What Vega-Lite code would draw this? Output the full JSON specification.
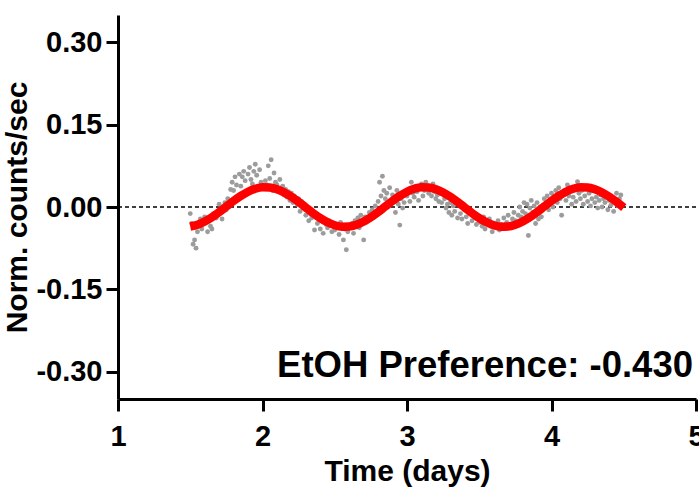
{
"$schema": "https://vega.github.io/schema/vega-lite/v6.json",
"width": 578, "height": 384,
"autosize": {"type": "none"},
"padding": {"left": 118, "top": 15, "right": 3, "bottom": 95},
"background": "white",
"config": {"view": {"stroke": null}, "font": "Liberation Sans"},
"datasets": {
"pts": [
{"t":1.50,"v":-0.012},{"t":1.51,"v":-0.030},{"t":1.52,"v":-0.068},{"t":1.53,"v":-0.060},{"t":1.54,"v":-0.075},{"t":1.55,"v":-0.045},{"t":1.56,"v":-0.028},{"t":1.57,"v":-0.022},{"t":1.58,"v":-0.040},{"t":1.60,"v":-0.018},{"t":1.61,"v":-0.025},{"t":1.62,"v":-0.045},{"t":1.64,"v":-0.035},{"t":1.65,"v":-0.040},{"t":1.66,"v":-0.012},{"t":1.68,"v":-0.020},{"t":1.70,"v":0.005},{"t":1.71,"v":-0.010},{"t":1.72,"v":-0.022},{"t":1.74,"v":0.008},{"t":1.75,"v":-0.005},{"t":1.76,"v":0.015},{"t":1.78,"v":0.032},{"t":1.79,"v":0.045},{"t":1.80,"v":0.030},{"t":1.81,"v":0.055},{"t":1.82,"v":0.040},{"t":1.84,"v":0.060},{"t":1.85,"v":0.038},{"t":1.86,"v":0.055},{"t":1.87,"v":0.065},{"t":1.88,"v":0.048},{"t":1.90,"v":0.060},{"t":1.91,"v":0.072},{"t":1.92,"v":0.050},{"t":1.93,"v":0.042},{"t":1.94,"v":0.065},{"t":1.95,"v":0.078},{"t":1.96,"v":0.058},{"t":1.98,"v":0.068},{"t":1.99,"v":0.045},{"t":2.00,"v":0.035},{"t":2.02,"v":0.048},{"t":2.03,"v":0.040},{"t":2.04,"v":0.075},{"t":2.05,"v":0.052},{"t":2.06,"v":0.086},{"t":2.07,"v":0.030},{"t":2.08,"v":0.062},{"t":2.09,"v":0.045},{"t":2.10,"v":0.040},{"t":2.11,"v":0.028},{"t":2.12,"v":0.050},{"t":2.13,"v":0.035},{"t":2.14,"v":0.038},{"t":2.15,"v":0.022},{"t":2.16,"v":0.032},{"t":2.17,"v":0.018},{"t":2.18,"v":0.028},{"t":2.19,"v":0.012},{"t":2.20,"v":0.025},{"t":2.21,"v":0.008},{"t":2.22,"v":0.020},{"t":2.24,"v":0.005},{"t":2.25,"v":0.015},{"t":2.26,"v":-0.008},{"t":2.27,"v":0.010},{"t":2.28,"v":-0.002},{"t":2.30,"v":-0.015},{"t":2.31,"v":-0.005},{"t":2.32,"v":-0.025},{"t":2.33,"v":-0.012},{"t":2.34,"v":-0.020},{"t":2.36,"v":-0.042},{"t":2.37,"v":-0.018},{"t":2.38,"v":-0.030},{"t":2.40,"v":-0.040},{"t":2.41,"v":-0.022},{"t":2.42,"v":-0.048},{"t":2.44,"v":-0.032},{"t":2.45,"v":-0.038},{"t":2.46,"v":-0.025},{"t":2.48,"v":-0.045},{"t":2.49,"v":-0.030},{"t":2.50,"v":-0.042},{"t":2.52,"v":-0.035},{"t":2.53,"v":-0.050},{"t":2.54,"v":-0.028},{"t":2.56,"v":-0.060},{"t":2.57,"v":-0.040},{"t":2.58,"v":-0.078},{"t":2.59,"v":-0.045},{"t":2.60,"v":-0.035},{"t":2.62,"v":-0.030},{"t":2.63,"v":-0.048},{"t":2.64,"v":-0.025},{"t":2.66,"v":-0.020},{"t":2.67,"v":-0.038},{"t":2.68,"v":-0.015},{"t":2.70,"v":-0.060},{"t":2.71,"v":-0.018},{"t":2.72,"v":-0.028},{"t":2.74,"v":-0.010},{"t":2.75,"v":-0.022},{"t":2.76,"v":-0.005},{"t":2.78,"v":0.002},{"t":2.79,"v":-0.012},{"t":2.80,"v":0.010},{"t":2.81,"v":0.045},{"t":2.82,"v":0.020},{"t":2.83,"v":0.056},{"t":2.84,"v":0.030},{"t":2.85,"v":0.015},{"t":2.86,"v":0.025},{"t":2.87,"v":0.005},{"t":2.88,"v":0.035},{"t":2.90,"v":0.022},{"t":2.91,"v":0.010},{"t":2.92,"v":-0.010},{"t":2.93,"v":0.030},{"t":2.94,"v":0.005},{"t":2.95,"v":-0.033},{"t":2.96,"v":0.015},{"t":2.97,"v":-0.002},{"t":2.98,"v":0.008},{"t":3.00,"v":0.020},{"t":3.01,"v":0.032},{"t":3.02,"v":0.010},{"t":3.03,"v":0.045},{"t":3.04,"v":0.025},{"t":3.05,"v":0.018},{"t":3.06,"v":0.038},{"t":3.07,"v":0.028},{"t":3.08,"v":0.012},{"t":3.09,"v":0.035},{"t":3.10,"v":0.042},{"t":3.11,"v":0.020},{"t":3.12,"v":0.030},{"t":3.13,"v":0.045},{"t":3.14,"v":0.038},{"t":3.15,"v":0.025},{"t":3.16,"v":0.032},{"t":3.17,"v":0.020},{"t":3.18,"v":0.042},{"t":3.19,"v":0.028},{"t":3.20,"v":0.015},{"t":3.21,"v":0.022},{"t":3.22,"v":0.010},{"t":3.23,"v":0.025},{"t":3.24,"v":0.008},{"t":3.26,"v":0.015},{"t":3.27,"v":-0.002},{"t":3.28,"v":0.005},{"t":3.29,"v":-0.010},{"t":3.30,"v":0.008},{"t":3.31,"v":-0.015},{"t":3.32,"v":0.002},{"t":3.33,"v":-0.008},{"t":3.35,"v":-0.020},{"t":3.36,"v":0.005},{"t":3.37,"v":-0.012},{"t":3.38,"v":-0.022},{"t":3.39,"v":0.002},{"t":3.40,"v":-0.005},{"t":3.41,"v":-0.018},{"t":3.42,"v":-0.030},{"t":3.43,"v":-0.008},{"t":3.44,"v":-0.012},{"t":3.45,"v":-0.025},{"t":3.47,"v":-0.015},{"t":3.48,"v":-0.032},{"t":3.49,"v":-0.020},{"t":3.50,"v":-0.028},{"t":3.52,"v":-0.035},{"t":3.53,"v":-0.018},{"t":3.54,"v":-0.040},{"t":3.55,"v":-0.028},{"t":3.57,"v":-0.022},{"t":3.58,"v":-0.035},{"t":3.59,"v":-0.045},{"t":3.60,"v":-0.030},{"t":3.62,"v":-0.038},{"t":3.63,"v":-0.025},{"t":3.64,"v":-0.042},{"t":3.65,"v":-0.032},{"t":3.67,"v":-0.020},{"t":3.68,"v":-0.038},{"t":3.69,"v":-0.028},{"t":3.70,"v":-0.015},{"t":3.72,"v":-0.032},{"t":3.73,"v":-0.022},{"t":3.74,"v":-0.010},{"t":3.75,"v":-0.025},{"t":3.77,"v":-0.015},{"t":3.78,"v":0.000},{"t":3.79,"v":-0.018},{"t":3.80,"v":-0.008},{"t":3.81,"v":0.008},{"t":3.82,"v":-0.012},{"t":3.83,"v":0.005},{"t":3.84,"v":-0.052},{"t":3.85,"v":-0.002},{"t":3.86,"v":0.012},{"t":3.87,"v":-0.010},{"t":3.88,"v":0.002},{"t":3.89,"v":-0.030},{"t":3.90,"v":0.008},{"t":3.91,"v":-0.022},{"t":3.92,"v":0.000},{"t":3.93,"v":-0.018},{"t":3.95,"v":0.015},{"t":3.96,"v":0.005},{"t":3.97,"v":0.020},{"t":3.98,"v":-0.005},{"t":3.99,"v":0.010},{"t":4.00,"v":0.025},{"t":4.01,"v":0.000},{"t":4.02,"v":0.018},{"t":4.03,"v":0.030},{"t":4.04,"v":0.008},{"t":4.05,"v":0.035},{"t":4.06,"v":0.015},{"t":4.07,"v":-0.015},{"t":4.08,"v":0.022},{"t":4.09,"v":0.030},{"t":4.10,"v":0.012},{"t":4.11,"v":0.040},{"t":4.12,"v":0.020},{"t":4.13,"v":0.028},{"t":4.14,"v":0.005},{"t":4.15,"v":0.018},{"t":4.16,"v":0.035},{"t":4.17,"v":0.010},{"t":4.18,"v":0.046},{"t":4.19,"v":0.025},{"t":4.20,"v":0.015},{"t":4.21,"v":0.030},{"t":4.22,"v":0.005},{"t":4.23,"v":0.020},{"t":4.24,"v":0.038},{"t":4.25,"v":0.010},{"t":4.26,"v":0.025},{"t":4.27,"v":0.002},{"t":4.28,"v":0.015},{"t":4.29,"v":0.030},{"t":4.30,"v":0.008},{"t":4.31,"v":0.018},{"t":4.32,"v":-0.002},{"t":4.33,"v":0.012},{"t":4.34,"v":0.022},{"t":4.35,"v":0.000},{"t":4.36,"v":0.015},{"t":4.37,"v":0.008},{"t":4.38,"v":0.020},{"t":4.39,"v":-0.005},{"t":4.40,"v":0.012},{"t":4.41,"v":0.003},{"t":4.42,"v":0.018},{"t":4.43,"v":-0.008},{"t":4.44,"v":0.010},{"t":4.45,"v":0.025},{"t":4.46,"v":0.002},{"t":4.47,"v":0.015},{"t":4.48,"v":0.022}
],
"fit": [
{"t":1.50,"v":-0.0355},{"t":1.55,"v":-0.0323},{"t":1.60,"v":-0.0265},{"t":1.65,"v":-0.0186},{"t":1.70,"v":-0.0092},{"t":1.75,"v":0.0010},{"t":1.80,"v":0.0111},{"t":1.85,"v":0.0203},{"t":1.90,"v":0.0279},{"t":1.95,"v":0.0332},{"t":2.00,"v":0.0358},{"t":2.05,"v":0.0355},{"t":2.10,"v":0.0323},{"t":2.15,"v":0.0265},{"t":2.20,"v":0.0186},{"t":2.25,"v":0.0092},{"t":2.30,"v":-0.0010},{"t":2.35,"v":-0.0111},{"t":2.40,"v":-0.0203},{"t":2.45,"v":-0.0279},{"t":2.50,"v":-0.0332},{"t":2.55,"v":-0.0358},
{"t":2.60,"v":-0.0355},{"t":2.65,"v":-0.0323},{"t":2.70,"v":-0.0265},{"t":2.75,"v":-0.0186},{"t":2.80,"v":-0.0092},{"t":2.85,"v":0.0010},{"t":2.90,"v":0.0111},{"t":2.95,"v":0.0203},{"t":3.00,"v":0.0279},{"t":3.05,"v":0.0332},{"t":3.10,"v":0.0358},{"t":3.15,"v":0.0355},{"t":3.20,"v":0.0323},{"t":3.25,"v":0.0265},{"t":3.30,"v":0.0186},{"t":3.35,"v":0.0092},{"t":3.40,"v":-0.0010},{"t":3.45,"v":-0.0111},{"t":3.50,"v":-0.0203},{"t":3.55,"v":-0.0279},{"t":3.60,"v":-0.0332},{"t":3.65,"v":-0.0358},
{"t":3.70,"v":-0.0355},{"t":3.75,"v":-0.0323},{"t":3.80,"v":-0.0265},{"t":3.85,"v":-0.0186},{"t":3.90,"v":-0.0092},{"t":3.95,"v":0.0010},{"t":4.00,"v":0.0111},{"t":4.05,"v":0.0203},{"t":4.10,"v":0.0279},{"t":4.15,"v":0.0332},{"t":4.20,"v":0.0358},{"t":4.25,"v":0.0355},{"t":4.30,"v":0.0323},{"t":4.35,"v":0.0265},{"t":4.40,"v":0.0186},{"t":4.45,"v":0.0092},{"t":4.50,"v":-0.0010}
]
},
"encoding": {
"x": {"field": "t", "type": "quantitative",
 "scale": {"domain": [1, 5], "nice": false, "zero": false},
 "axis": {"values": [1, 2, 3, 4, 5], "format": "d", "grid": false, "domainColor": "black", "domainWidth": 3, "tickColor": "black", "tickWidth": 3, "tickSize": 12, "labelFontSize": 29, "labelFontWeight": "bold", "labelColor": "black", "labelPadding": 11, "labelFlush": false, "labelOverlap": false, "title": "Time (days)", "titleFontSize": 30, "titleFontWeight": "bold", "titleColor": "black", "titlePadding": 5}},
"y": {"field": "v", "type": "quantitative",
 "scale": {"domain": [-0.35, 0.35], "nice": false, "zero": false},
 "axis": {"values": [-0.3, -0.15, 0, 0.15, 0.3], "labelExpr": "replace(format(datum.value, '.2f'), '\u2212', '-')", "grid": false, "domainColor": "black", "domainWidth": 3, "tickColor": "black", "tickWidth": 3, "tickSize": 12, "labelFontSize": 29, "labelFontWeight": "bold", "labelColor": "black", "labelPadding": 4, "labelFlush": false, "labelOverlap": false, "title": "Norm. counts/sec", "titleFontSize": 30, "titleFontWeight": "bold", "titleColor": "black", "titlePadding": 3}}
},
"layer": [
{"data": {"values": [{"t": 1, "t2": 5, "v": 0}]},
 "mark": {"type": "rule", "color": "black", "strokeWidth": 1.5, "strokeDash": [4, 3]},
 "encoding": {"x2": {"field": "t2"}}},
{"data": {"name": "pts"},
 "mark": {"type": "circle", "size": 24, "color": "#9c9c9c", "opacity": 1}},
{"data": {"name": "fit"},
 "mark": {"type": "line", "color": "#ff0000", "strokeWidth": 8.5, "interpolate": "monotone"}},
{"data": {"values": [{"t": 5, "v": -0.31, "label": "EtOH Preference: -0.430"}]},
 "mark": {"type": "text", "align": "right", "baseline": "alphabetic", "dx": -3, "fontSize": 36.5, "fontWeight": "bold", "color": "black"},
 "encoding": {"text": {"field": "label"}}}
]
}
